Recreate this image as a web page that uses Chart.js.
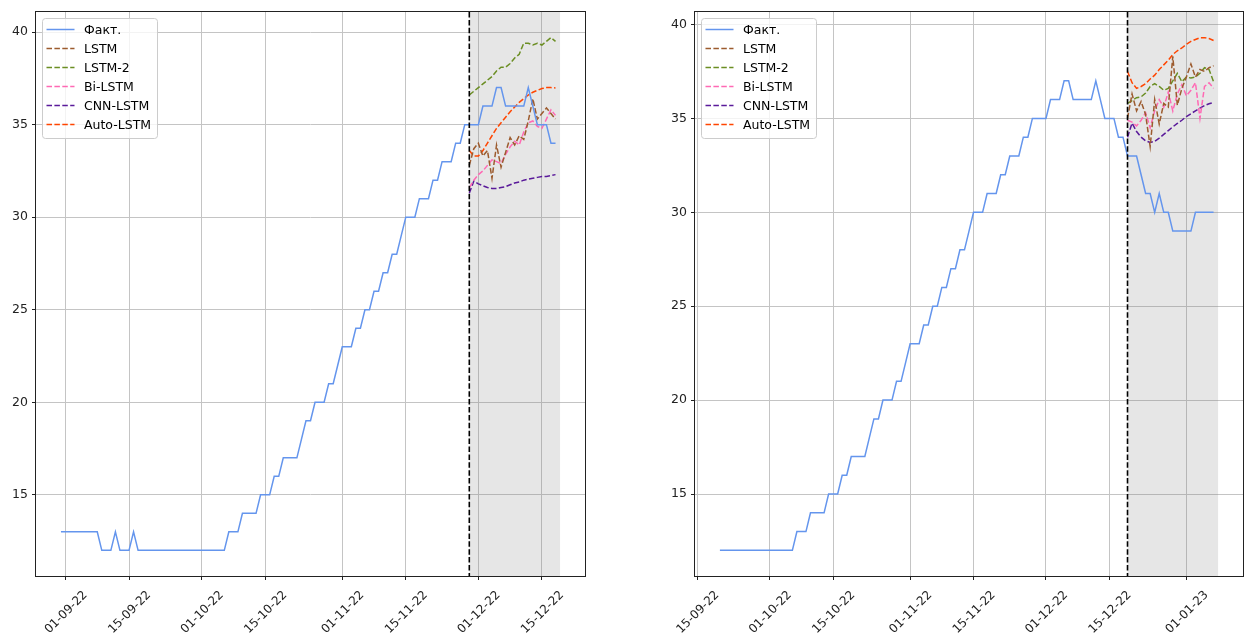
<!DOCTYPE html>
<html>
<head>
<meta charset="utf-8">
<script src="https://cdn.jsdelivr.net/npm/chart.js@4.4.0/dist/chart.umd.min.js"></script>
<style>
  html, body { margin: 0; padding: 0; background: #ffffff; }
  #wrap { position: relative; width: 1248px; height: 633px; overflow: hidden; }
  #wrap canvas { position: absolute; top: 0; }
</style>
</head>
<body>
<div id="wrap">
  <canvas id="chartLeft" width="624" height="633" style="left:0px"></canvas>
  <canvas id="chartRight" width="624" height="633" style="left:624px"></canvas>
</div>
<script>
// ---- data ---------------------------------------------------------------
// daily observed values, first day 31-08-22
const firstDate = '31-08-22';
const fact = [
  13, 13, 13, 13, 13, 13, 13, 13, 13, 12,
  12, 12, 13, 12, 12, 12, 13, 12, 12, 12,
  12, 12, 12, 12, 12, 12, 12, 12, 12, 12,
  12, 12, 12, 12, 12, 12, 12, 13, 13, 13,
  14, 14, 14, 14, 15, 15, 15, 16, 16, 17,
  17, 17, 17, 18, 19, 19, 20, 20, 20, 21,
  21, 22, 23, 23, 23, 24, 24, 25, 25, 26,
  26, 27, 27, 28, 28, 29, 30, 30, 30, 31,
  31, 31, 32, 32, 33, 33, 33, 34, 34, 35,
  35, 35, 35, 36, 36, 36, 37, 37, 36, 36,
  36, 36, 36, 37, 36, 35, 35, 35, 34, 34,
  33, 33, 33, 32, 31, 31, 30, 31, 30, 30,
  29, 29, 29, 29, 29, 30, 30, 30, 30, 30
];

const factLabel = 'Факт.';
const modelLabels = ['LSTM', 'LSTM-2', 'Bi-LSTM', 'CNN-LSTM', 'Auto-LSTM'];

// left panel: history window and forecast horizon
const leftWindow = ['31-08-22', '18-12-22'];
const leftForecastStart = '29-11-22';
const leftLSTM     = [32.8, 33.7, 34.0, 33.3, 33.6, 32.1, 33.9, 32.7, 33.5, 34.3, 33.9, 34.4, 34.2, 35.2, 36.4, 35.3, 35.6, 35.9, 35.6, 35.3];
const leftLSTM2    = [36.6, 36.8, 37.0, 37.2, 37.4, 37.6, 37.9, 38.1, 38.1, 38.3, 38.6, 38.8, 39.4, 39.4, 39.3, 39.4, 39.3, 39.5, 39.7, 39.5];
const leftBiLSTM   = [31.6, 32.0, 32.3, 32.5, 32.8, 33.1, 33.0, 32.9, 33.4, 33.8, 34.1, 33.9, 34.6, 35.1, 35.2, 34.9, 34.8, 35.3, 35.8, 35.5];
const leftCNNLSTM  = [31.3, 31.95, 31.8, 31.7, 31.6, 31.55, 31.55, 31.6, 31.65, 31.75, 31.85, 31.9, 32.0, 32.05, 32.1, 32.15, 32.2, 32.2, 32.25, 32.3];
const leftAutoLSTM = [33.6, 33.3, 33.3, 33.6, 34.0, 34.4, 34.8, 35.1, 35.4, 35.7, 35.95, 36.2, 36.4, 36.6, 36.75, 36.85, 36.95, 37.0, 37.0, 36.98];
const leftTickLabels = ['01-09-22', '15-09-22', '01-10-22', '15-10-22', '01-11-22', '15-11-22', '01-12-22', '15-12-22'];

// right panel
const rightWindow = ['20-09-22', '07-01-23'];
const rightForecastStart = '19-12-22';
const rightLSTM     = [35.0, 36.3, 35.4, 35.9, 35.2, 33.5, 36.0, 34.7, 35.8, 35.6, 38.3, 35.7, 36.6, 37.2, 37.9, 37.2, 37.6, 37.5, 37.7, 37.8];
const rightLSTM2    = [35.8, 35.95, 36.1, 36.15, 36.35, 36.7, 36.85, 36.7, 36.5, 36.6, 37.0, 37.4, 36.95, 37.2, 37.15, 37.2, 37.4, 37.7, 37.6, 36.95];
const rightBiLSTM   = [34.9, 34.8, 34.6, 34.9, 35.3, 34.5, 35.4, 36.0, 35.6, 36.4, 35.4, 36.3, 36.8, 36.2, 36.5, 36.9, 35.0, 36.7, 36.9, 36.6];
const rightCNNLSTM  = [34.0, 34.75, 34.3, 34.0, 33.8, 33.72, 33.78, 33.95, 34.15, 34.35, 34.55, 34.73, 34.9, 35.1, 35.25, 35.4, 35.55, 35.68, 35.78, 35.85];
const rightAutoLSTM = [37.5, 36.9, 36.6, 36.7, 36.85, 37.1, 37.3, 37.6, 37.85, 38.1, 38.4, 38.6, 38.75, 38.95, 39.1, 39.2, 39.3, 39.3, 39.25, 39.15];
const rightTickLabels = ['15-09-22', '01-10-22', '15-10-22', '01-11-22', '15-11-22', '01-12-22', '15-12-22', '01-01-23'];

const yTickValues = [15, 20, 25, 30, 35, 40];

// ---- styling ------------------------------------------------------------
const FONT = 'DejaVu Sans';
const factColor = '#6495ED';
const modelColors = ['#9C5B2E', '#6B8E23', '#FF69B4', '#5A1A9A', '#FF4500'];
const dashPattern = [5.5, 2.4];

// ---- helpers ------------------------------------------------------------
function toUTC(s) {
  const [d, m, y] = s.split('-').map(Number);
  return Date.UTC(2000 + y, m - 1, d);
}
function dayIndex(s) {
  return Math.round((toUTC(s) - toUTC(firstDate)) / 86400000);
}

// shaded forecast span, split marker, full frame and legend box
const decorPlugin = {
  id: 'decor',
  beforeDatasetsDraw(chart, args, opts) {
    const { ctx, chartArea: a, scales: { x } } = chart;
    const x0 = x.getPixelForValue(opts.split);
    const x1 = x.getPixelForValue(opts.spanEnd);
    ctx.save();
    ctx.fillStyle = 'rgba(128,128,128,0.2)';
    ctx.fillRect(x0, a.top, x1 - x0, a.bottom - a.top);
    ctx.restore();
  },
  afterDatasetsDraw(chart, args, opts) {
    const { ctx, chartArea: a, scales: { x } } = chart;
    const xs = x.getPixelForValue(opts.split);
    ctx.save();
    ctx.strokeStyle = '#000000';
    ctx.lineWidth = 1.6;
    ctx.setLineDash(dashPattern);
    ctx.beginPath();
    ctx.moveTo(xs, a.top);
    ctx.lineTo(xs, a.bottom);
    ctx.stroke();
    ctx.restore();
  },
  afterDraw(chart) {
    const { ctx, chartArea: a } = chart;
    ctx.save();
    ctx.strokeStyle = '#222222';
    ctx.lineWidth = 1;
    ctx.strokeRect(Math.round(a.left) - 0.5, Math.round(a.top) - 0.5,
                   Math.round(a.right - a.left) + 1, Math.round(a.bottom - a.top) + 1);

    // legend
    const lx = a.left + 6, ly = a.top + 6, w = 115, h = 120;
    ctx.beginPath();
    ctx.roundRect(lx + 0.5, ly + 0.5, w, h, 3);
    ctx.fillStyle = 'rgba(255,255,255,0.8)';
    ctx.fill();
    ctx.strokeStyle = '#cccccc';
    ctx.stroke();
    ctx.font = '12.5px "' + FONT + '"';
    ctx.textBaseline = 'middle';
    ctx.textAlign = 'left';
    chart.data.datasets.forEach((ds, i) => {
      const yy = ly + 11.5 + i * 19;
      ctx.beginPath();
      ctx.setLineDash(ds.borderDash || []);
      ctx.strokeStyle = ds.borderColor;
      ctx.lineWidth = ds.borderWidth;
      ctx.moveTo(lx + 4.5, yy);
      ctx.lineTo(lx + 32.5, yy);
      ctx.stroke();
      ctx.setLineDash([]);
      ctx.fillStyle = '#000000';
      ctx.fillText(ds.label, lx + 42, yy + 1);
    });
    ctx.restore();
  }
};

function buildPanel(canvasId, win, forecastStart, models, tickLabels, geom) {
  const from = dayIndex(win[0]);
  const to = dayIndex(win[1]);
  const split = dayIndex(forecastStart);
  const spanEnd = to + 1;

  const factPoints = [];
  for (let d = from; d <= to; d++) factPoints.push({ x: d, y: fact[d] });

  const datasets = [{
    label: factLabel,
    data: factPoints,
    borderColor: factColor,
    borderWidth: 1.5
  }];
  models.forEach((vals, i) => {
    datasets.push({
      label: modelLabels[i],
      data: vals.map((v, k) => ({ x: split + k, y: v })),
      borderColor: modelColors[i],
      borderWidth: 1.5,
      borderDash: dashPattern
    });
  });

  // axis limits with 5% margins around the drawn content (data + shaded span)
  const ys = datasets.flatMap(ds => ds.data.map(p => p.y));
  const yMin = Math.min(...ys), yMax = Math.max(...ys);
  const yPad = (yMax - yMin) * 0.05;
  const xPad = (spanEnd - from) * 0.05;

  const tickDays = tickLabels.map(dayIndex);
  const labelByDay = {};
  tickLabels.forEach((t, i) => { labelByDay[tickDays[i]] = t; });

  const yFont = { family: FONT, size: 12.5 };
  const xFont = { family: FONT, size: 12 };

  return new Chart(document.getElementById(canvasId), {
    type: 'line',
    data: { datasets },
    options: {
      responsive: false,
      animation: false,
      devicePixelRatio: 1,
      layout: { padding: { top: geom.top, right: geom.right, left: 0, bottom: 0 } },
      elements: { point: { radius: 0 }, line: { tension: 0 } },
      plugins: {
        legend: { display: false },
        tooltip: { enabled: false },
        decor: { split: split, spanEnd: spanEnd }
      },
      scales: {
        x: {
          type: 'linear',
          min: from - xPad,
          max: spanEnd + xPad,
          afterBuildTicks: s => { s.ticks = tickDays.map(v => ({ value: v })); },
          afterFit: s => { s.height = geom.xHeight; s.paddingLeft = 0; s.paddingRight = 0; },
          ticks: {
            autoSkip: false,
            minRotation: 45,
            maxRotation: 45,
            labelOffset: 20,
            padding: 8,
            color: '#222222',
            font: xFont,
            callback: v => labelByDay[v]
          },
          grid: { color: '#c4c4c4', lineWidth: 1, tickColor: '#222222', tickLength: 4 },
          border: { display: false }
        },
        y: {
          type: 'linear',
          min: yMin - yPad,
          max: yMax + yPad,
          afterBuildTicks: s => { s.ticks = yTickValues.map(v => ({ value: v })); },
          afterFit: s => { s.width = geom.yWidth; s.paddingTop = 0; s.paddingBottom = 0; },
          ticks: { padding: 4, color: '#222222', font: yFont },
          grid: { color: '#c4c4c4', lineWidth: 1, tickColor: '#222222', tickLength: 4 },
          border: { display: false }
        }
      }
    },
    plugins: [decorPlugin]
  });
}

buildPanel('chartLeft', leftWindow, leftForecastStart,
  [leftLSTM, leftLSTM2, leftBiLSTM, leftCNNLSTM, leftAutoLSTM], leftTickLabels,
  { top: 12, right: 39, yWidth: 36, xHeight: 57 });

buildPanel('chartRight', rightWindow, rightForecastStart,
  [rightLSTM, rightLSTM2, rightBiLSTM, rightCNNLSTM, rightAutoLSTM], rightTickLabels,
  { top: 12, right: 5, yWidth: 71, xHeight: 57 });
</script>
</body>
</html>
